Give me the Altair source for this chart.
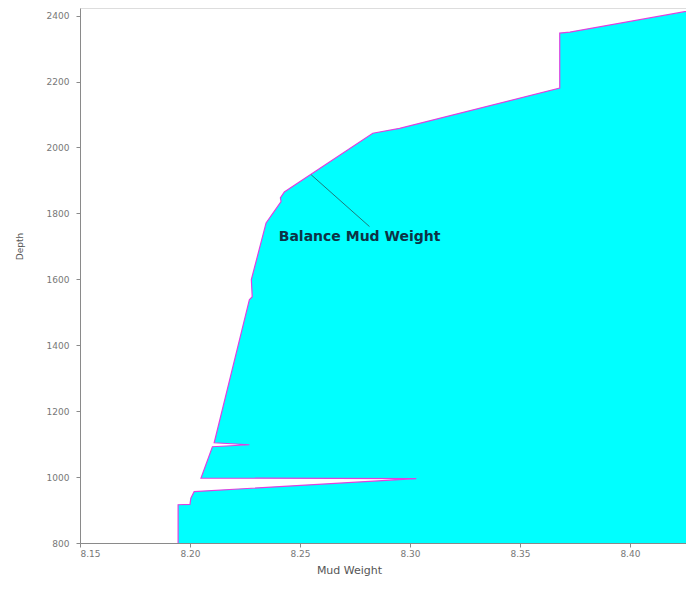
import altair as alt
import pandas as pd

# Balance mud weight curve, in drawing order
mud_weight = [8.1946, 8.1946, 8.2000, 8.2004, 8.2019, 8.3029, 8.2050, 8.2102, 8.2270,
              8.2110, 8.2270, 8.2283, 8.2279, 8.2346, 8.2414, 8.2411, 8.2429, 8.2831,
              8.2953, 8.3681, 8.3681, 8.3727, 8.4300]
depth = [800, 916, 917, 936, 956, 995, 997, 1092, 1098,
         1104, 1538, 1547, 1599, 1771, 1836, 1847, 1865, 2043,
         2058, 2180, 2347, 2350, 2418]

x_ticks = [8.15, 8.20, 8.25, 8.30, 8.35, 8.40]
y_ticks = [800, 1000, 1200, 1400, 1600, 1800, 2000, 2200, 2400]
x_domain = [8.15, 8.4255]
y_domain = [800, 2423]
fill_right = 8.44

label_text = ["Balance Mud Weight"]
label_mw = [8.2771]
label_depth = [1729]
leader_mw = [8.2551]
leader_depth = [1917]
leader_mw2 = [8.2816]
leader_depth2 = [1760]

curve = pd.DataFrame({
    "idx": list(range(len(mud_weight))),
    "mw": mud_weight,
    "depth": depth,
    "right": [fill_right] * len(mud_weight),
})
label_df = pd.DataFrame({"text": label_text, "mw": label_mw, "depth": label_depth})
leader_df = pd.DataFrame({"mw": leader_mw, "depth": leader_depth,
                          "mw2": leader_mw2, "depth2": leader_depth2})

FONT = "DejaVu Sans"

x_scale = alt.Scale(domain=x_domain, nice=False, zero=False)
y_scale = alt.Scale(domain=y_domain, nice=False, zero=False)

x_axis = alt.Axis(values=x_ticks, format=".2f", title="Mud Weight", grid=False,
                  domainColor="#8a8a8a", tickColor="#8a8a8a", tickSize=4,
                  labelFont=FONT, labelFontSize=9, labelColor="#777777", labelPadding=2,
                  titleFont=FONT, titleFontSize=11, titleFontWeight="normal",
                  titleColor="#555555", titlePadding=6, titleX=269)
y_axis = alt.Axis(values=y_ticks, format="d", title="Depth", grid=False,
                  domainColor="#8a8a8a", tickColor="#8a8a8a", tickSize=4,
                  labelFont=FONT, labelFontSize=9, labelColor="#777777", labelPadding=7,
                  titleFont=FONT, titleFontSize=9, titleFontWeight="normal",
                  titleColor="#555555", titlePadding=22, titleY=238)

area = alt.Chart(curve).mark_area(orient="horizontal", color="#00ffff", clip=True,
                                  opacity=1).encode(
    y=alt.Y("depth:Q", scale=y_scale, axis=y_axis),
    x=alt.X("mw:Q", scale=x_scale, axis=x_axis, stack=None),
    x2=alt.X2("right:Q"),
)

line = alt.Chart(curve).mark_line(color="#e040e0", strokeWidth=1.2, clip=True).encode(
    y=alt.Y("depth:Q", scale=y_scale),
    x=alt.X("mw:Q", scale=x_scale),
    order="idx:Q",
)

leader = alt.Chart(leader_df).mark_rule(color="#1f7a7a", strokeWidth=1).encode(
    x=alt.X("mw:Q", scale=x_scale),
    y=alt.Y("depth:Q", scale=y_scale),
    x2="mw2:Q",
    y2="depth2:Q",
)

label = alt.Chart(label_df).mark_text(font=FONT, fontSize=14, fontWeight="bold",
                                      color="#0d3346", align="center", baseline="middle").encode(
    x=alt.X("mw:Q", scale=x_scale),
    y=alt.Y("depth:Q", scale=y_scale),
    text="text:N",
)

chart = alt.layer(area, line, leader, label).properties(
    width=606, height=535,
    autosize=alt.AutoSizeParams(type="none"),
    padding={"left": 72, "top": 0, "right": 0, "bottom": 40},
).configure_view(stroke=None).configure(background="white")

chart.save("out.html", embed_options={"renderer": "svg", "actions": False})
